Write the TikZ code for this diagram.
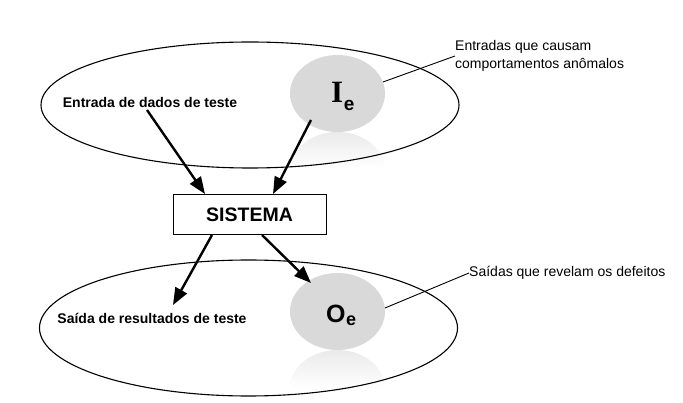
\documentclass[tikz,border=0pt]{standalone}
\usepackage{fontspec}
\setmainfont{Liberation Sans}
\newfontfamily\serifb{Liberation Serif}
\newfontfamily\sansb{Liberation Sans}
\usetikzlibrary{shapes.geometric,arrows.meta}
\definecolor{circgray}{RGB}{217,217,217}
\begin{document}
\begin{tikzpicture}[x=1pt,y=-1pt,
  bigell/.style={draw, line width=1.1pt, ellipse, inner sep=0pt, minimum width=418pt, minimum height=128pt},
  grayell/.style={fill=circgray, ellipse, inner sep=0pt, minimum width=95pt, minimum height=77pt},
  arr/.style={line width=2.4pt, -{Triangle[length=17pt,width=13pt]}},
  callout/.style={line width=0.9pt},
  lbl/.style={font=\fontsize{14}{18}\selectfont\bfseries, inner sep=0pt},
  note/.style={font=\fontsize{14}{18}\selectfont, inner sep=0pt, align=left}]
\useasboundingbox (0,0) rectangle (683,403);
\fill[white] (0,0) rectangle (683,403);
% reflections
\begin{scope}
  \clip (337.5,170.5) ellipse [x radius=47.5, y radius=38.5];
  \shade[top color=circgray!55, bottom color=white] (290,132) rectangle (386,168);
  \fill[white] (290,168) rectangle (386,210);
\end{scope}
\begin{scope}
  \clip (337.5,388.5) ellipse [x radius=47.5, y radius=38.5];
  \shade[top color=circgray!55, bottom color=white] (290,350) rectangle (386,388);
  \fill[white] (290,388) rectangle (386,430);
\end{scope}
% gray circles
\node[grayell] (ie) at (337.5,93.5) {};
\node[grayell] (oe) at (337.5,311.5) {};
% big ellipses
\node[bigell, minimum height=126pt] (top) at (250,105) {};
\node[bigell, minimum height=136pt] (bot) at (248.5,328) {};
% circle labels
\node[anchor=base west, inner sep=0pt] (ietxt) at (331,103) {\fontsize{31}{31}\selectfont\serifb\bfseries I\kern0.5pt\raisebox{-8pt}{\fontsize{19}{19}\selectfont\sansb\bfseries e}};
\node[anchor=base west, inner sep=0pt] (oetxt) at (326,323) {\fontsize{25}{25}\selectfont\bfseries O\kern0.5pt\raisebox{-3pt}{\fontsize{18}{18}\selectfont\bfseries e}};
% system box
\node[draw, line width=1pt, minimum width=153pt, minimum height=40pt, inner sep=0pt,
      font=\fontsize{19.5}{20}\selectfont\bfseries] (sys) at (249.5,215) {SISTEMA};
% labels
\node[lbl] (lbl1) at (150,102) {Entrada de dados de teste};
\node[lbl] (lbl2) at (152,318) {Saída de resultados de teste};
% notes
\node[note, anchor=west] (n1) at (455,56) {Entradas que causam\\comportamentos anômalos};
\node[note, anchor=west] (n2) at (469,273) {Saídas que revelam os defeitos};
% arrows
\coordinate (s1) at (147,110);
\coordinate (t1) at (205,194);
\coordinate (s2) at (311,120);
\coordinate (t2) at (273,194);
\coordinate (s3) at (212,235);
\coordinate (t3) at (173,305);
\coordinate (s4) at (262,235);
\coordinate (t4) at (311,283);
\draw[arr] (s1) -- (t1);
\draw[arr] (s2) -- (t2);
\draw[arr] (s3) -- (t3);
\draw[arr] (s4) -- (t4);
% callouts
\coordinate (c1) at (383,82);
\coordinate (c2) at (385,308);
\draw[callout] (c1) -- (n1.west);
\draw[callout] (c2) -- (n2.west);
\end{tikzpicture}
\end{document}
